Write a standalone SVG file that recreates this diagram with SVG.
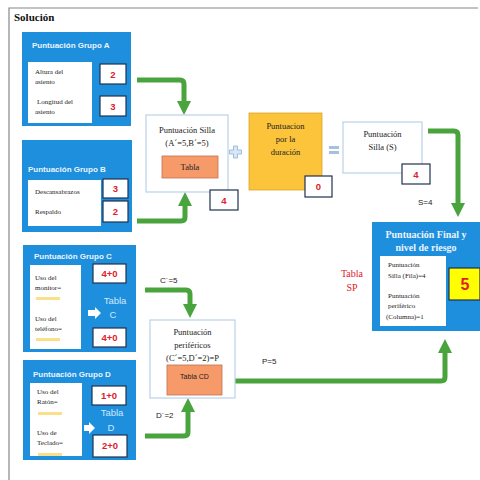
<svg xmlns="http://www.w3.org/2000/svg" width="480" height="480" viewBox="0 0 480 480">
<defs>
<style>
.grp{fill:#1e8fdc;}
.inner{fill:#ffffff;}
.ttl{font-family:"Liberation Sans",Arial,sans-serif;font-weight:bold;font-size:8px;fill:#eaf4ff;}
.t{font-family:"Liberation Serif","Times New Roman",serif;font-size:7px;fill:#222;}
.tm{font-family:"Liberation Serif","Times New Roman",serif;font-size:8.5px;fill:#222;}
.nb{fill:#ffffff;stroke:#1f3150;stroke-width:1.2;}
.num{font-family:"Liberation Sans",Arial,sans-serif;font-weight:bold;font-size:9.5px;fill:#e0202a;text-anchor:middle;}
.lbl{font-family:"Liberation Sans",Arial,sans-serif;font-size:8px;fill:#222;}
.yl{fill:#fbe08a;}
.conn{fill:none;stroke:#4aa43e;stroke-width:5;stroke-linejoin:round;}
.tbl{font-family:"Liberation Sans",Arial,sans-serif;font-size:9.5px;fill:#cfe8ff;text-anchor:middle;}
</style>
<marker id="ah" viewBox="0 0 10 10" refX="5" refY="5" markerWidth="2.8" markerHeight="2.8" orient="auto">
<path d="M0,0 L10,5 L0,10 z" fill="#4aa43e"/>
</marker>
</defs>
<rect width="480" height="480" fill="#ffffff"/>
<!-- frame -->
<path d="M9,480 V8 H478" fill="none" stroke="#888" stroke-width="1.2"/>
<text x="14" y="21" font-family="Liberation Serif,serif" font-weight="bold" font-size="11" fill="#111">Solución</text>

<!-- connectors -->
<g id="connectors">
<path class="conn" d="M137,80 H180 Q184,80 184,84 V108" marker-end="url(#ah)"/>
<path class="conn" d="M137,221 H181 Q185,221 185,217 V199" marker-end="url(#ah)"/>
<path class="conn" d="M428,131 H454 Q458,131 458,135 V210" marker-end="url(#ah)"/>
<path class="conn" d="M145,290 H186 Q190,290 190,294 V311" marker-end="url(#ah)"/>
<path class="conn" d="M145,436 H184 Q188,436 188,432 V405" marker-end="url(#ah)"/>
<path class="conn" d="M235,381 H441 Q445,381 445,377 V346" marker-end="url(#ah)"/>
<text class="lbl" x="160" y="283">C´=5</text>
<text class="lbl" x="156" y="418">D´=2</text>
<text class="lbl" x="262" y="364">P=5</text>
<text class="lbl" x="418" y="205">S=4</text>
</g>

<!-- Group A -->
<g id="grupoA">
<rect class="grp" x="22" y="32" width="109" height="94"/>
<text class="ttl" x="32" y="48">Puntuación Grupo A</text>
<rect class="inner" x="28" y="62" width="64" height="61"/>
<text class="t" x="35" y="74">Altura del</text>
<text class="t" x="35" y="84">asiento</text>
<text class="t" x="37" y="104">Longitud del</text>
<text class="t" x="35" y="114">asiento</text>
<rect class="nb" x="100" y="64" width="26" height="20"/>
<text class="num" x="113" y="78">2</text>
<rect class="nb" x="100" y="96" width="26" height="20"/>
<text class="num" x="113" y="110">3</text>
</g>

<!-- Group B -->
<g id="grupoB">
<rect class="grp" x="22" y="140" width="110" height="92"/>
<text class="ttl" x="28" y="172">Puntuación Grupo B</text>
<rect class="inner" x="28" y="180" width="73" height="46"/>
<text class="t" x="35" y="194">Descansabrazos</text>
<text class="t" x="35" y="214">Respaldo</text>
<rect class="nb" x="103" y="179" width="25" height="19"/>
<text class="num" x="115.5" y="192">3</text>
<rect class="nb" x="103" y="201" width="25" height="21"/>
<text class="num" x="115.5" y="215">2</text>
</g>

<!-- Group C -->
<g id="grupoC">
<rect class="grp" x="23" y="245" width="113" height="107"/>
<text class="ttl" x="34" y="259">Puntuación Grupo C</text>
<rect class="inner" x="30" y="265" width="51" height="84"/>
<text class="t" x="35" y="280">Uso del</text>
<text class="t" x="35" y="290">monitor=</text>
<rect class="yl" x="36" y="297" width="24" height="3"/>
<text class="t" x="35" y="321">Uso del</text>
<text class="t" x="35" y="331">teléfono=</text>
<rect class="yl" x="36" y="338" width="24" height="3"/>
<rect class="nb" x="93" y="264" width="33" height="19"/>
<text class="num" x="109.5" y="277">4+0</text>
<rect class="nb" x="93" y="328" width="33" height="19"/>
<text class="num" x="109.5" y="341">4+0</text>
<text class="tbl" x="115" y="304">Tabla</text>
<text class="tbl" x="113" y="318">C</text>
<path d="M88,310 H95 V307 L101,313 L95,319 V316 H88 z" fill="#ffffff"/>
</g>

<!-- Group D -->
<g id="grupoD">
<rect class="grp" x="23" y="360" width="113" height="100"/>
<text class="ttl" x="33" y="377">Puntuación Grupo D</text>
<rect class="inner" x="30" y="383" width="52" height="73"/>
<text class="t" x="37" y="394">Uso del</text>
<text class="t" x="37" y="404">Ratón=</text>
<rect class="yl" x="38" y="412" width="24" height="3"/>
<text class="t" x="37" y="435">Uso de</text>
<text class="t" x="37" y="445">Teclado=</text>
<rect class="yl" x="38" y="453" width="24" height="3"/>
<rect class="nb" x="92" y="386" width="34" height="19"/>
<text class="num" x="109" y="399">1+0</text>
<rect class="nb" x="93" y="435" width="34" height="22"/>
<text class="num" x="110" y="449">2+0</text>
<text class="tbl" x="112" y="416">Tabla</text>
<text class="tbl" x="111" y="431">D</text>
<path d="M84,425 H89 V422 L95,428 L89,434 V431 H84 z" fill="#ffffff"/>
</g>

<!-- Silla -->
<g id="silla">
<rect x="146" y="115" width="82" height="77" fill="#ffffff" stroke="#b9d3e6" stroke-width="1.2"/>
<text class="tm" x="187" y="133" text-anchor="middle">Puntuación Silla</text>
<text class="tm" x="187" y="146" text-anchor="middle">(A´=5,B´=5)</text>
<rect x="162" y="156" width="56" height="22" fill="#f79a6a" stroke="#c07050" stroke-width="0.8"/>
<text class="tm" x="190" y="170" text-anchor="middle">Tabla</text>
<rect class="nb" x="210" y="190" width="28" height="20"/>
<text class="num" x="224" y="204">4</text>
</g>

<!-- plus -->
<path d="M233.5,146 h4 v4 h4 v4 h-4 v4 h-4 v-4 h-4 v-4 h4 z" fill="#d8e6f6" stroke="#8fb0d8" stroke-width="0.8"/>

<!-- Duración -->
<g id="duracion">
<rect x="249" y="113" width="73" height="77" fill="#fcc43a" stroke="#d9a52a" stroke-width="0.8"/>
<text class="tm" x="285.5" y="129" text-anchor="middle" fill="#5a3510">Puntuacion</text>
<text class="tm" x="285.5" y="142" text-anchor="middle" fill="#5a3510">por la</text>
<text class="tm" x="285.5" y="155" text-anchor="middle" fill="#5a3510">duración</text>
<rect class="nb" x="305" y="176" width="27" height="21"/>
<text class="num" x="318.5" y="190">0</text>
</g>

<!-- equals -->
<g fill="#a8c0e0">
<rect x="329" y="146" width="10" height="3"/>
<rect x="329" y="151" width="10" height="3"/>
</g>

<!-- Silla S -->
<g id="sillaS">
<rect x="343" y="122" width="79" height="51" fill="#ffffff" stroke="#b9d3e6" stroke-width="1.2"/>
<text class="tm" x="382.5" y="137" text-anchor="middle">Puntuación</text>
<text class="tm" x="382.5" y="150" text-anchor="middle">Silla (S)</text>
<rect class="nb" x="402" y="164" width="28" height="20"/>
<text class="num" x="416" y="178">4</text>
</g>

<!-- Tabla SP -->
<text x="352" y="277" font-family="Liberation Serif,serif" font-size="10" fill="#e0202a" text-anchor="middle">Tabla</text>
<text x="352" y="291" font-family="Liberation Serif,serif" font-size="10" fill="#e0202a" text-anchor="middle">SP</text>

<!-- Final -->
<g id="final">
<rect class="grp" x="372" y="222" width="108" height="109"/>
<text x="426" y="238" font-family="Liberation Serif,serif" font-weight="bold" font-size="10" fill="#eaf4ff" text-anchor="middle">Puntuación Final y</text>
<text x="426" y="251" font-family="Liberation Serif,serif" font-weight="bold" font-size="10" fill="#eaf4ff" text-anchor="middle">nivel de riesgo</text>
<rect class="inner" x="380" y="256" width="66" height="70"/>
<text class="t" x="388" y="267">Puntuación</text>
<text class="t" x="388" y="278">Silla (Fila)=4</text>
<text class="t" x="388" y="298">Puntuación</text>
<text class="t" x="388" y="308">periférico</text>
<text class="t" x="386" y="319">(Columna)=1</text>
<rect x="449" y="268" width="31" height="32" fill="#ffff00" stroke="#1f3150" stroke-width="1.2"/>
<text x="465" y="290" font-family="Liberation Sans,Arial,sans-serif" font-weight="bold" font-size="16" fill="#e0202a" text-anchor="middle">5</text>
</g>

<!-- Periféricos -->
<g id="perifericos">
<rect x="150" y="320" width="85" height="78" fill="#ffffff" stroke="#b9d3e6" stroke-width="1.2"/>
<text class="tm" x="192.5" y="335" text-anchor="middle">Puntuación</text>
<text class="tm" x="192.5" y="348" text-anchor="middle">periféricos</text>
<text class="tm" x="192.5" y="361" text-anchor="middle">(C´=5,D´=2)=P</text>
<rect x="167" y="365" width="55" height="30" fill="#f79a6a" stroke="#c07050" stroke-width="0.8"/>
<text x="194.5" y="379" font-family="Liberation Sans,Arial,sans-serif" font-size="7" fill="#222" text-anchor="middle">Tabla CD</text>
</g>
</svg>
